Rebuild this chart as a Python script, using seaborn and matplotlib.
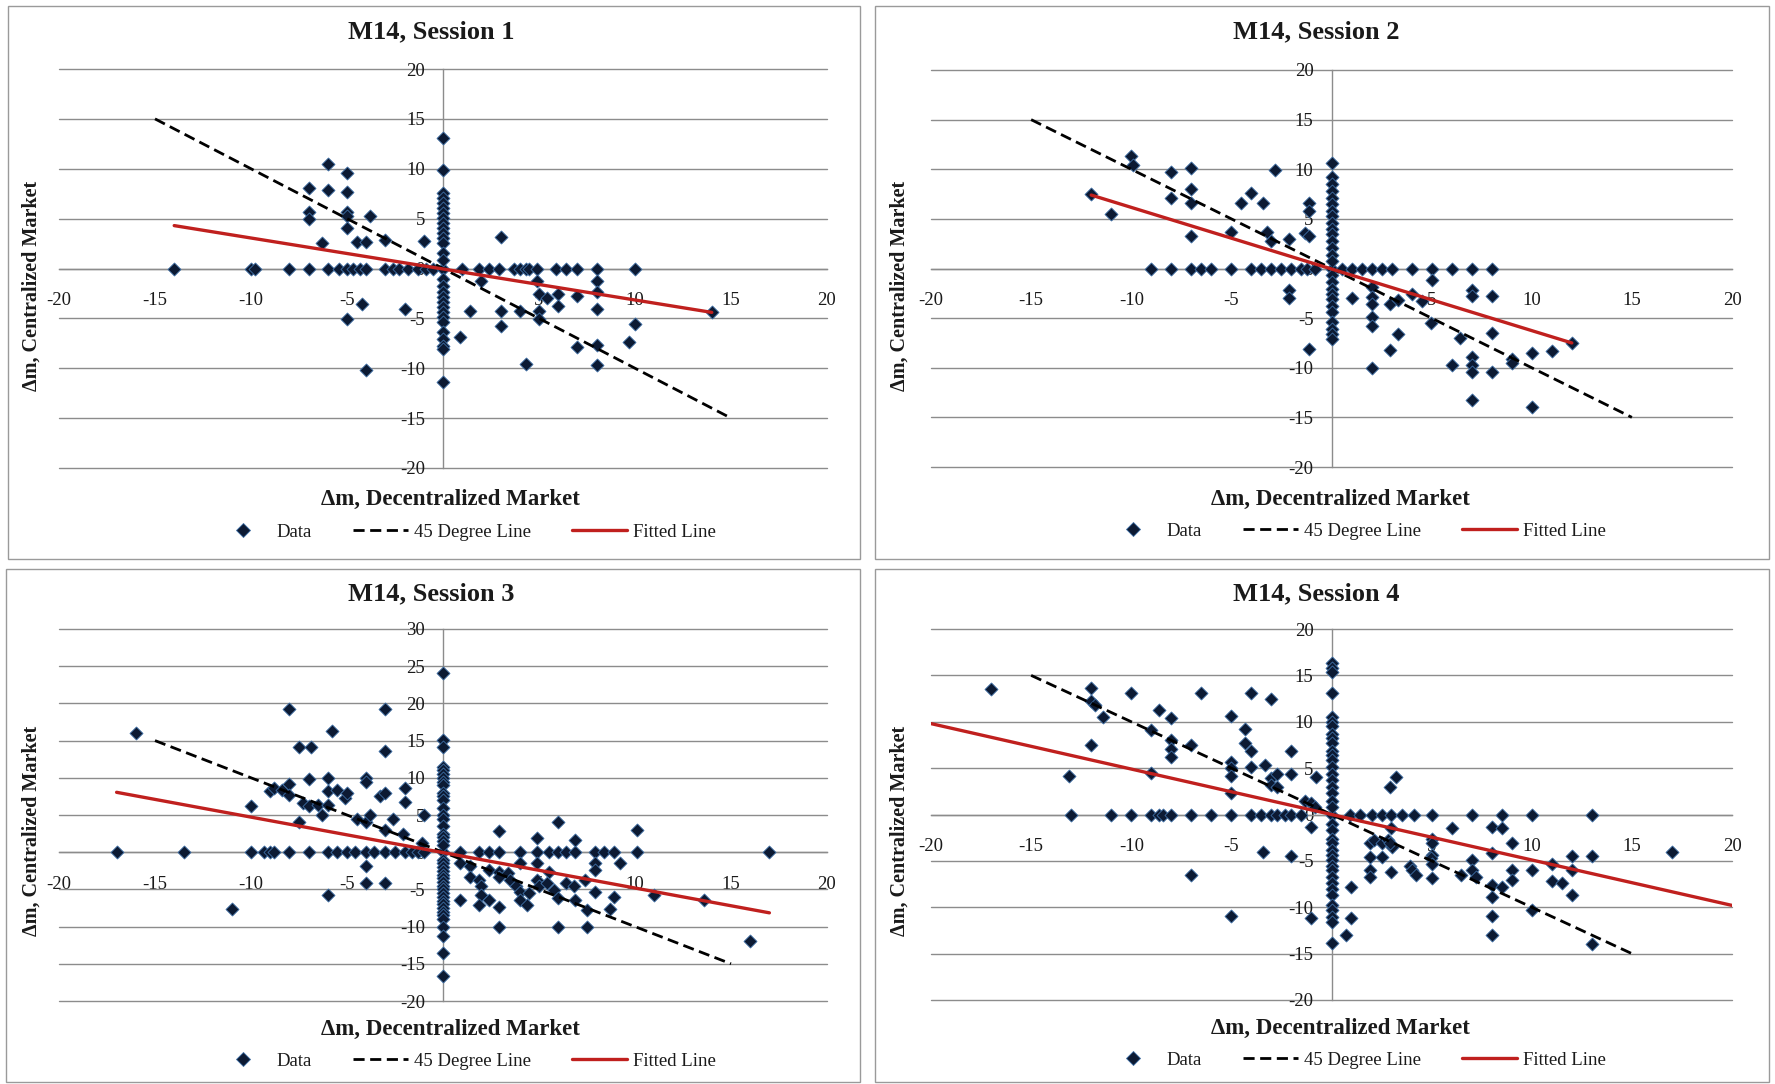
import numpy as np
import pandas as pd
import matplotlib
matplotlib.use("Agg")
import matplotlib.pyplot as plt
import seaborn as sns
from matplotlib.lines import Line2D
from matplotlib.patches import Rectangle

# ---------------- data ----------------
titles = ["M14, Session 1", "M14, Session 2", "M14, Session 3", "M14, Session 4"]
x_label = "\u0394m, Decentralized Market"
y_label = "\u0394m, Centralized Market"
legend_labels = ["Data", "45 Degree Line", "Fitted Line"]

x_ticks = [-20, -15, -10, -5, 0, 5, 10, 15, 20]
y_ticks_a = [-20, -15, -10, -5, 0, 5, 10, 15, 20]
y_ticks_b = [-20, -15, -10, -5, 0, 5, 10, 15, 20, 25, 30]

deg45_x = [-15, 15]
deg45_y = [15, -15]

# Session 1
p1_row_x = [-14, -10, -9.8, -8, -7, -6, -5.4, -5, -4.7, -4.3, -4, -3, -2.6, -2.3, -1.8, -1.3, -0.9, -0.5, 0,
            1.0, 1.9, 2.4, 2.9, 3.7, 4.0, 4.3, 4.5, 4.9, 5.9, 6.4, 7.0, 8.0, 10.0]
p1_col_y = [13.1, 9.9, 7.6, 7.1, 6.6, 6.1, 5.6, 5.1, 4.6, 4.1, 3.6, 3.1, 2.6, 1.6, 0.9,
            -1.1, -1.8, -2.4, -2.9, -3.4, -3.9, -4.4, -4.9, -5.4, -6.4, -7.1, -7.8, -8.1, -11.4]
p1_x = [-6, -5, -7, -6, -5, -7, -7, -5, -5, -3.8, -5, -6.3, -4.5, -4, -3, -1, -4.2, -5, -2, -4,
        3, 2, 4.9, 8, 5, 5.4, 6, 7, 8, 6, 1.4, 3, 4, 5, 5, 8, 3, 0.9, 7, 8, 9.7, 10, 4.3, 8, 14]
p1_y = [10.5, 9.6, 8.1, 7.9, 7.7, 5.7, 5.0, 5.7, 5.3, 5.3, 4.1, 2.6, 2.7, 2.7, 2.9, 2.8, -3.6, -5.1, -4.1, -10.2,
        3.2, -1.3, -1.3, -1.3, -2.6, -3.0, -2.6, -2.8, -2.4, -3.8, -4.3, -4.3, -4.3, -4.3, -5.1, -4.1, -5.8, -6.9,
        -7.9, -7.7, -7.4, -5.6, -9.6, -9.7, -4.4]
fit1_x = [-14, 14]
fit1_y = [4.3, -4.4]

# Session 2
p2_row_x = [-9, -8, -7, -6.5, -6, -5, -4, -3.5, -3, -2.5, -2, -1.5, -1.2, -0.8, 0,
            0.5, 1.0, 1.5, 2.0, 2.5, 3.0, 4.0, 5.0, 6.0, 7.0, 8.0]
p2_col_y = [10.6, 9.2, 8.5, 7.8, 7.1, 6.5, 5.8, 5.3, 4.6, 4.0, 3.5, 2.8, 2.1, 1.4, 0.8,
            -0.7, -1.4, -2.1, -2.6, -3.1, -3.8, -4.4, -5.4, -6.1, -6.6, -7.1]
p2_x = [-12, -11, -10, -9.9, -8, -7, -8, -7, -7, -7, -5, -4.5, -4, -3.4, -2.8, -3.2, -3, -2.1, -1.1, -1.1,
        -1.3, -1.1, -2.1, -2.1, -1.1,
        1, 2, 2, 2, 2, 2, 2, 2.9, 3.3, 3.3, 2.9, 4, 4.5, 5, 4.95, 6.4, 6, 7, 7, 8, 8, 7, 7, 7, 8, 7,
        9, 9, 10, 10, 11, 12]
p2_y = [7.5, 5.5, 11.3, 10.4, 9.7, 10.1, 7.1, 8.0, 6.6, 3.3, 3.7, 6.6, 7.6, 6.6, 9.9, 3.7, 2.8, 3.0, 6.6, 5.8,
        3.6, 3.3, -2.2, -3.0, -8.1,
        -3.0, -1.9, -2.9, -3.6, -4.9, -5.8, -10.0, -3.6, -3.2, -6.6, -8.2, -2.6, -3.3, -1.2, -5.5, -7.0, -9.7,
        -2.2, -2.8, -2.8, -6.5, -8.9, -9.7, -10.4, -10.4, -13.2, -9.1, -9.5, -8.5, -14.0, -8.3, -7.5]
fit2_x = [-12, 12]
fit2_y = [7.4, -7.5]

# Session 3
p3_row_x = [-17, -13.5, -10, -9.3, -9.0, -8.8, -8, -7, -6, -5.5, -5, -4.6, -4, -3.6, -3, -2.5, -2, -1.6, -1.3,
            -1.0, 0, 0.9, 1.9, 2.4, 2.9, 4.0, 4.9, 5.5, 6.0, 6.4, 6.9, 7.9, 8.4, 8.9, 10.1, 17]
p3_col_y = [24.1, 15.1, 14.2, 11.5, 11.0, 10.5, 10.0, 9.5, 9.0, 8.0, 7.5, 7.0, 6.0, 5.0, 4.5, 3.5, 2.5, 2.0,
            1.5, 1.0, -1.0, -1.5, -2.0, -2.5, -3.0, -3.5, -4.0, -4.5, -5.0, -5.5, -6.0, -6.5, -7.0, -7.5, -8.0,
            -8.5, -9.0, -10.0, -11.3, -13.6, -16.6]
p3_x = [-16, -10, -11, -8, -9, -8.8, -8.4, -8, -8, -7.5, -6.9, -7.5, -7.3, -7, -7, -6.5, -6.3, -6, -6, -6,
        -5.8, -5.5, -5.1, -5, -6, -4.5, -4, -4, -4, -3.8, -4, -4, -3, -3, -3.3, -3, -3, -2.6, -3, -2, -2,
        -2.1, -1, -1.1,
        2.9, 6.0, 4.9, 6.9, 10.1, 9.2, 0.9, 1.4, 1.4, 1.9, 2.4, 2.0, 2.0, 0.9, 1.9, 2.4, 2.9, 2.9, 3.4, 2.9,
        2.9, 4.0, 3.5, 3.8, 4.0, 4.0, 4.4, 4.5, 4.9, 4.9, 5.0, 5.5, 5.4, 5.8, 6.0, 6.0, 6.4, 6.8, 6.9, 7.4,
        7.5, 7.5, 7.9, 7.9, 7.9, 8.7, 8.9, 11.0, 13.6, 16.0]
p3_y = [16, 6.2, -7.7, 19.3, 8.2, 8.6, 8.4, 9.1, 7.7, 14.1, 14.1, 4.1, 6.6, 6.2, 9.8, 6.4, 5.0, 10.0, 8.2, 6.4,
        16.3, 8.4, 7.3, 8.0, -5.8, 4.4, 10.0, 9.5, 4.1, 5.0, -1.9, -4.2, 19.3, 13.6, 7.6, 8.0, 3.0, 4.4, -4.2,
        8.6, 6.8, 2.4, 5.0, 1.2,
        2.9, 4.0, 1.9, 1.7, 3.0, -1.4, -1.5, -1.9, -3.3, -3.7, -2.4, -4.6, -5.8, -6.4, -7.1, -6.4, -2.6, -3.3,
        -2.8, -7.3, -10.0, -1.5, -3.7, -4.6, -5.3, -6.4, -7.1, -5.5, -1.5, -3.7, -4.6, -2.6, -4.2, -5.1, -6.2,
        -10.0, -4.2, -4.6, -6.4, -3.7, -7.8, -10.0, -1.5, -2.4, -5.3, -7.6, -6.0, -5.8, -6.4, -12.0]
fit3_x = [-17, 17]
fit3_y = [8.05, -8.15]

# Session 4
p4_row_x = [-13, -11, -10, -9, -8.6, -8.4, -8, -7, -6, -5, -4, -3.5, -3, -2.7, -2.3, -2, -1.5, 0,
            0.9, 1.4, 2.0, 2.5, 2.95, 3.5, 4.1, 5.0, 7.0, 8.5, 10.0, 13.0]
p4_col_y = [16.3, 15.8, 15.4, 13.1, 10.5, 10.0, 9.5, 8.7, 8.2, 7.7, 6.9, 6.4, 5.9, 5.1, 4.4, 3.7, 3.0, 2.3,
            1.5, 0.8, -1.0, -1.7, -2.6, -3.1, -3.8, -4.4, -4.9, -5.5, -6.0, -6.7, -7.4, -8.0, -8.7, -9.8,
            -10.3, -11.0, -11.6, -13.9]
p4_x = [-17, -13.1, -12, -12, -11.8, -11.4, -12, -10, -9, -9, -8.6, -8, -8, -8, -8, -7, -6.5, -7, -5, -5,
        -5, -5, -5, -5, -4.3, -4.3, -4, -4, -4, -3, -3.3, -3, -3, -2.7, -2.7, -2, -2, -3.4, -2, -0.75,
        -1.3, -1.0, -0.8, -1.0, -1.0,
        2.9, 3.2, 0.95, 0.95, 0.7, 1.9, 2.1, 2.5, 1.9, 2.5, 1.9, 1.9, 2.8, 3.0, 2.9, 2.95, 2.95, 3.9, 4.0,
        4.2, 5.0, 5.0, 5.0, 4.95, 5.0, 5.0, 6.0, 6.45, 7.0, 7.0, 7.2, 8.0, 8.0, 8.0, 8.0, 8.0, 8.0, 8.5,
        8.5, 9.0, 9.0, 9.0, 10.0, 10.0, 11.0, 11.0, 11.5, 12.0, 12.0, 12.0, 13.0, 13.0, 17.0]
p4_y = [13.5, 4.2, 13.6, 12.2, 11.8, 10.5, 7.5, 13.1, 9.1, 4.5, 11.3, 10.4, 8.0, 7.1, 6.2, 7.5, 13.1, -6.5,
        10.6, 5.7, 5.0, 4.1, 2.3, -10.9, 9.2, 7.7, 6.9, 13.1, 5.1, 12.5, 5.3, 3.9, 3.2, 3.0, 4.4, 4.4, 6.9,
        -4.0, -4.5, 4.0, 1.5, 1.2, 0.8, -1.3, -11.2,
        3.0, 4.0, -7.8, -11.2, -13.0, -3.1, -2.8, -3.1, -4.6, -4.6, -6.0, -6.7, -2.8, -3.5, -3.1, -1.5, -6.2,
        -5.5, -6.0, -6.5, -2.6, -3.1, -4.4, -4.7, -5.3, -6.9, -1.5, -6.5, -4.9, -6.0, -6.7, -1.3, -4.2, -7.6,
        -8.9, -10.9, -13.0, -7.8, -1.5, -3.1, -6.0, -7.1, -6.0, -10.3, -5.3, -7.2, -7.4, -4.5, -6.0, -8.7,
        -4.5, -14.0, -4.0]
fit4_x = [-20, 20]
fit4_y = [9.8, -9.8]

# ---------------- style ----------------
sns.set_theme(style="white")
plt.rcParams["font.family"] = ["Liberation Serif", "DejaVu Serif"]

W, H = 1775, 1084
fig = plt.figure(figsize=(W / 100, H / 100), dpi=100)
fig.patch.set_facecolor("white")

MARK = "#0c1a33"
MARK_EDGE = "#3d6ea5"
RED = "#c0201e"
GRID = "#8c8c8c"
TXT = "#1a1a1a"


def fx(px):
    return px / W


def fy(py):
    return 1 - py / H


panels = [
    dict(row_x=p1_row_x, col_y=p1_col_y, x=p1_x, y=p1_y, fx_=fit1_x, fy_=fit1_y, yt=y_ticks_a,
         box=(8, 6, 860, 559), ax=(59, 69, 827, 468), title=(431, 32), xl=(450, 499), yl=(32, 286),
         leg=(466, 532)),
    dict(row_x=p2_row_x, col_y=p2_col_y, x=p2_x, y=p2_y, fx_=fit2_x, fy_=fit2_y, yt=y_ticks_a,
         box=(875, 6, 1769, 559), ax=(931, 70, 1732, 467), title=(1316, 32), xl=(1340, 499), yl=(900, 286),
         leg=(1356, 531)),
    dict(row_x=p3_row_x, col_y=p3_col_y, x=p3_x, y=p3_y, fx_=fit3_x, fy_=fit3_y, yt=y_ticks_b,
         box=(6, 569, 860, 1082), ax=(59, 629, 827, 1001), title=(431, 594), xl=(450, 1029), yl=(32, 831),
         leg=(466, 1061)),
    dict(row_x=p4_row_x, col_y=p4_col_y, x=p4_x, y=p4_y, fx_=fit4_x, fy_=fit4_y, yt=y_ticks_a,
         box=(875, 569, 1769, 1082), ax=(931, 629, 1732, 1000), title=(1316, 594), xl=(1340, 1028),
         yl=(900, 831), leg=(1356, 1060)),
]

for i, p in enumerate(panels):
    bl, bt, br, bb = p["box"]
    fig.patches.append(Rectangle((fx(bl), fy(bb)), (br - bl) / W, (bb - bt) / H, transform=fig.transFigure,
                                 fill=False, edgecolor="#9a9a9a", linewidth=1.0, zorder=0))
    l, t, r, b = p["ax"]
    ax = fig.add_axes([fx(l), fy(b), (r - l) / W, (b - t) / H])
    ax.set_facecolor("none")

    df = pd.DataFrame({
        "x": list(p["row_x"]) + [0.0] * len(p["col_y"]) + list(p["x"]),
        "y": [0.0] * len(p["row_x"]) + list(p["col_y"]) + list(p["y"]),
    })
    sns.scatterplot(data=df, x="x", y="y", ax=ax, marker="D", s=44, color=MARK, edgecolor=MARK_EDGE,
                    linewidth=0.6, zorder=3, legend=False)
    sns.lineplot(x=deg45_x, y=deg45_y, ax=ax, color="black", linewidth=2.0, linestyle=(0, (4, 2)),
                 zorder=4, legend=False)
    sns.lineplot(x=p["fx_"], y=p["fy_"], ax=ax, color=RED, linewidth=2.4, zorder=5, legend=False)

    yt = p["yt"]
    ax.set_xlim(-20, 20)
    ax.set_ylim(yt[0], yt[-1])
    ax.set_xticks(x_ticks)
    ax.set_yticks(yt)
    ax.set_xticklabels([str(v) for v in x_ticks])
    ax.set_yticklabels([str(v) for v in yt])
    ax.set_xlabel("")
    ax.set_ylabel("")

    for s in ["top", "right"]:
        ax.spines[s].set_visible(False)
    ax.spines["left"].set_position(("data", 0))
    ax.spines["bottom"].set_position(("data", 0))
    ax.spines["left"].set_color(GRID)
    ax.spines["bottom"].set_color(GRID)
    ax.spines["left"].set_linewidth(1.0)
    ax.spines["bottom"].set_linewidth(1.0)
    ax.spines["left"].set_zorder(1)
    ax.spines["bottom"].set_zorder(1)

    ax.yaxis.grid(True, color=GRID, linewidth=1.0, zorder=0)
    ax.xaxis.grid(False)
    ax.set_axisbelow(True)
    for gl in ax.get_ygridlines():
        gl.set_clip_on(False)

    ax.tick_params(axis="x", direction="out", length=4, width=1, color=GRID, pad=13,
                   labelsize=13.5, labelcolor=TXT)
    ax.tick_params(axis="y", length=0, pad=13, labelsize=13.5, labelcolor=TXT)
    for lab in ax.get_xticklabels() + ax.get_yticklabels():
        lab.set_zorder(2)

    tx, ty = p["title"]
    fig.text(fx(tx), fy(ty), titles[i], ha="center", va="center", fontsize=19, fontweight="bold", color=TXT)
    xx, xy = p["xl"]
    fig.text(fx(xx), fy(xy), x_label, ha="center", va="center", fontsize=16.5, fontweight="bold", color=TXT)
    yx, yy = p["yl"]
    fig.text(fx(yx), fy(yy), y_label, ha="center", va="center", rotation=90, fontsize=14.5,
             fontweight="bold", color=TXT)

    handles = [
        Line2D([], [], linestyle="none", marker="D", markersize=7, markerfacecolor=MARK,
               markeredgecolor=MARK_EDGE, markeredgewidth=0.6),
        Line2D([], [], color="black", linewidth=2.0, linestyle=(0, (4, 2))),
        Line2D([], [], color=RED, linewidth=2.4),
    ]
    lx, ly = p["leg"]
    fig.legend(handles, legend_labels, loc="center", bbox_to_anchor=(fx(lx), fy(ly)), ncol=3,
               frameon=False, fontsize=13.5, handlelength=2.9, handletextpad=0.35, columnspacing=2.2,
               labelcolor=TXT)

fig.savefig("out.png", dpi=100, facecolor="white")
